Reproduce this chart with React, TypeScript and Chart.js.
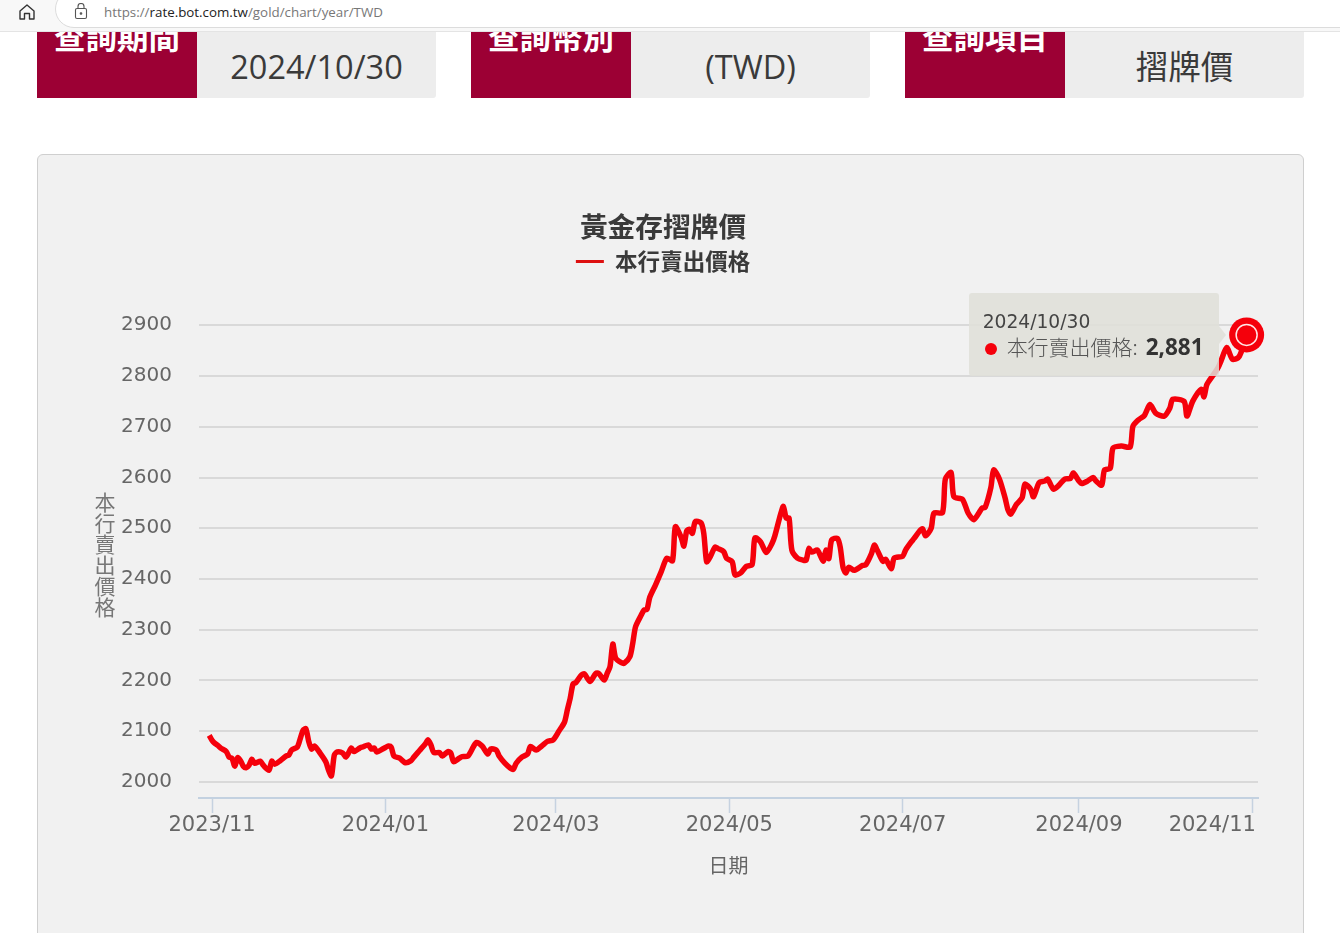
import React, { useEffect, useRef } from "react";
import { Chart, registerables } from "chart.js";

Chart.register(...registerables);

const CJK = '"Noto Sans CJK TC", "Noto Sans", sans-serif';
const NUM = '"DejaVu Sans", sans-serif';

const chartTitle = "黃金存摺牌價";
const seriesName = "本行賣出價格";
const xAxisTitle = "日期";
const selectedDate = "2024/10/30";

// days counted from 2023/11/01
const tickDays = [0, 61, 121, 182, 243, 305, 366];
const tickLabels = ["2023/11", "2024/01", "2024/03", "2024/05", "2024/07", "2024/09", "2024/11"];
const yTicks = [2000, 2100, 2200, 2300, 2400, 2500, 2600, 2700, 2800, 2900];

const dayOffsets = [
  -1, 0, 1, 2, 3, 5, 6, 7, 8, 9, 10, 11, 12, 13, 14, 15, 17, 18, 20, 21, 22, 24, 26, 27, 28, 30, 31, 32, 33, 34, 35, 36,
  38, 40, 41, 42, 43, 44, 46, 47, 48, 49, 50, 52, 53, 55, 56, 57, 58, 60, 61, 62, 63, 64, 66, 68, 70, 71, 73, 75, 76, 77,
  78, 80, 81, 83, 84, 85, 87, 88, 90, 92, 93, 95, 97, 98, 100, 101, 103, 105, 106, 107, 109, 111, 112, 114, 116, 118, 120, 122,
  124, 125, 126, 127, 128, 130, 131, 133, 135, 136, 138, 139, 140, 141, 142, 144, 145, 147, 148, 149, 151, 152, 153, 154, 156, 158, 160, 162,
  163, 165, 166, 167, 168, 169, 170, 172, 173, 174, 175, 177, 178, 180, 181, 183, 184, 186, 188, 190, 191, 193, 195, 197, 198, 200, 201, 202,
  203, 204, 206, 208, 209, 210, 211, 213, 215, 216, 217, 218, 220, 221, 222, 223, 224, 226, 229, 230, 232, 233, 234, 236, 237, 239, 240, 243,
  244, 246, 247, 249, 250, 251, 253, 254, 257, 258, 260, 261, 264, 266, 268, 271, 272, 274, 275, 277, 279, 280, 281, 283, 285, 286, 288, 289,
  291, 293, 294, 296, 298, 300, 302, 303, 305, 306, 308, 310, 311, 313, 314, 316, 317, 320, 323, 324, 326, 328, 330, 332, 335, 337, 338, 342,
  343, 345, 348, 349, 350, 352, 354, 355, 357, 359, 361, 362, 364,
];

const sellPrices = [
  2092, 2082, 2076, 2072, 2067, 2060, 2049, 2047, 2031, 2048, 2042, 2031, 2028, 2033, 2045, 2037, 2041, 2033, 2023, 2041, 2035, 2042, 2051, 2053, 2063, 2069, 2085, 2102, 2105, 2080, 2065, 2071,
  2057, 2040, 2023, 2012, 2053, 2059, 2057, 2049, 2057, 2067, 2060, 2067, 2069, 2073, 2065, 2067, 2059, 2065, 2068, 2071, 2069, 2051, 2047, 2038, 2042, 2049, 2062, 2075, 2083, 2073,
  2058, 2058, 2051, 2060, 2057, 2040, 2047, 2050, 2051, 2070, 2078, 2071, 2055, 2065, 2063, 2051, 2037, 2027, 2025, 2037, 2049, 2055, 2070, 2063, 2071, 2080, 2083, 2100,
  2118, 2142, 2165, 2193, 2196, 2211, 2213, 2198, 2214, 2214, 2201, 2214, 2227, 2272, 2244, 2235, 2234, 2247, 2273, 2306, 2329, 2339, 2340, 2364, 2388, 2414, 2441, 2436,
  2503, 2483, 2465, 2495, 2498, 2490, 2513, 2511, 2490, 2434, 2441, 2463, 2460, 2454, 2441, 2434, 2408, 2412, 2425, 2428, 2481, 2473, 2452, 2470, 2485, 2527, 2543, 2520,
  2520, 2457, 2441, 2437, 2437, 2460, 2453, 2457, 2435, 2457, 2440, 2477, 2480, 2463, 2423, 2412, 2423, 2417, 2427, 2428, 2450, 2467, 2457, 2435, 2439, 2420, 2441, 2445,
  2457, 2473, 2480, 2495, 2499, 2485, 2500, 2530, 2531, 2597, 2610, 2562, 2557, 2530, 2517, 2540, 2541, 2580, 2615, 2597, 2560, 2537, 2528, 2547, 2560, 2587, 2577, 2562,
  2590, 2593, 2597, 2577, 2585, 2597, 2598, 2609, 2593, 2588, 2593, 2600, 2593, 2585, 2615, 2618, 2658, 2662, 2660, 2701, 2714, 2722, 2744, 2727, 2721, 2737, 2754, 2750,
  2721, 2750, 2774, 2759, 2783, 2800, 2817, 2830, 2856, 2833, 2836, 2846, 2881,
];

const lastIndex = sellPrices.length - 1;
const RED = "#f5000b";

const card = (left: number, label: string, value: string) => (
  <React.Fragment key={label}>
    <div style={{ position: "absolute", left, top: 10, width: 160, height: 88, background: "#9c0034", color: "#fff", fontFamily: CJK, fontWeight: 700, fontSize: 31.5, lineHeight: "51px", textAlign: "center" }}>{label}</div>
    <div style={{ position: "absolute", left: left + 160, top: 10, width: 239, height: 88, background: "#ededed", borderRadius: "0 0 3px 0", color: "#3a3a3a", fontFamily: '"Open Sans", ' + CJK, fontSize: 32.5, lineHeight: "114px", textAlign: "center", fontWeight: 400 }}>{value}</div>
  </React.Fragment>
);

export default function App() {
  const canvasRef = useRef<HTMLCanvasElement>(null);
  const tipRef = useRef<HTMLDivElement>(null);

  useEffect(() => {
    const points = dayOffsets.map((d, i) => ({ x: d, y: sellPrices[i] }));
    const lastPoint = [points[lastIndex]];
    const chart = new Chart(canvasRef.current as HTMLCanvasElement, {
      type: "line",
      data: {
        datasets: [
          { label: seriesName, data: points, borderColor: RED, backgroundColor: RED, borderWidth: 5.5, pointRadius: 0, tension: 0.25, borderJoinStyle: "round", clip: false, order: 3 },
          { label: "halo", data: lastPoint, pointRadius: 17.5, pointBackgroundColor: RED, pointBorderWidth: 0, showLine: false, clip: false, order: 2 },
          { label: "marker", data: lastPoint, pointRadius: 10.5, pointBackgroundColor: RED, pointBorderColor: "#ffe6e6", pointBorderWidth: 1.5, showLine: false, clip: false, order: 1 },
        ],
      } as any,
      options: {
        animation: false,
        responsive: false,
        events: [],
        layout: { padding: { top: 205, right: 68, bottom: 53, left: 68 } },
        plugins: {
          title: { display: true, text: chartTitle, color: "#3a3a3a", font: { family: CJK, size: 27.7, weight: "bold" }, padding: { top: 5, bottom: 3 } },
          legend: {
            display: true,
            labels: {
              color: "#3a3a3a",
              font: { family: CJK, size: 22.5, weight: "bold" },
              usePointStyle: true,
              pointStyleWidth: 28,
              padding: 4,
              generateLabels: () => [{ text: seriesName, fillStyle: "#dd1010", strokeStyle: "#dd1010", lineWidth: 3, pointStyle: "line", datasetIndex: 0, hidden: false, fontColor: "#3a3a3a" }],
            },
          },
          tooltip: {
            enabled: false,
            external: ({ chart: c, tooltip }: any) => {
              const tip = tipRef.current;
              if (!tip || !tooltip.dataPoints?.length) return;
              const el = tooltip.dataPoints[0].element;
              tip.style.left = c.canvas.offsetLeft + el.x - 278 + "px";
              tip.style.top = c.canvas.offsetTop + el.y - 42 + "px";
              tip.style.display = "block";
              (tip.querySelector("[data-t]") as HTMLElement).textContent = selectedDate;
              (tip.querySelector("[data-n]") as HTMLElement).textContent = seriesName + ":";
              (tip.querySelector("[data-v]") as HTMLElement).textContent = tooltip.dataPoints[0].parsed.y.toLocaleString("en-US");
            },
          },
        },
        scales: {
          x: {
            type: "linear",
            min: -4.6,
            max: 368,
            afterBuildTicks: (s: any) => { s.ticks = tickDays.map((value) => ({ value })); },
            afterFit: (s: any) => { s.height = 82; s.paddingLeft = 0; s.paddingRight = 0; },
            border: { color: "#c3d1e0", width: 2 },
            grid: { drawOnChartArea: false, drawTicks: true, tickLength: 15, tickWidth: 1.5, tickColor: "#c6d2e0" },
            ticks: {
              autoSkip: false,
              maxRotation: 0,
              padding: 0,
              color: "#666",
              font: { family: NUM, size: 21 },
              callback: (_v: any, i: number) => tickLabels[i] + (i === tickLabels.length - 1 ? "\u00A0".repeat(12) : ""),
            },
            title: { display: true, text: xAxisTitle, color: "#666", font: { family: CJK, size: 20 }, padding: { top: 0, bottom: 3 } },
          },
          y: {
            type: "linear",
            min: 1968.45,
            max: 2983.8,
            afterBuildTicks: (s: any) => { s.ticks = yTicks.map((value) => ({ value })); },
            afterFit: (s: any) => { s.width = 131; s.paddingTop = 0; s.paddingBottom = 0; },
            border: { display: false },
            grid: { color: "#d9d9d9", lineWidth: 2, drawTicks: false },
            ticks: { padding: 27, color: "#666", font: { family: NUM, size: 20 }, callback: (v: any) => String(v) },
          },
        },
      } as any,
    });
    chart.tooltip?.setActiveElements([{ datasetIndex: 0, index: lastIndex }], { x: 0, y: 0 });
    chart.render();
    return () => chart.destroy();
  }, []);

  return (
    <div style={{ position: "fixed", left: 0, top: 0, width: 1340, height: 933, overflow: "hidden", background: "#fff" }}>
      {card(37, "查詢期間", "2024/10/30")}
      {card(471, "查詢幣別", "(TWD)")}
      {card(905, "查詢項目", "摺牌價")}

      {/* browser bar */}
      <div style={{ position: "absolute", left: 0, top: 0, width: 1340, height: 31, background: "#f8f8f8", borderBottom: "1px solid #e4e4e4" }} />
      <div style={{ position: "absolute", left: 55, top: -10, width: 1320, height: 38, background: "#fff", border: "1px solid #dcdcdc", borderRadius: 19, boxSizing: "border-box" }} />
      <svg style={{ position: "absolute", left: 18, top: 3 }} width="18" height="18" viewBox="0 0 18 18" fill="none" stroke="#333" strokeWidth="1.4">
        <path d="M2 8 L9 2 L16 8 V16 H11.5 V10.5 H6.5 V16 H2 Z" strokeLinejoin="round" />
      </svg>
      <svg style={{ position: "absolute", left: 74, top: 3 }} width="14" height="17" viewBox="0 0 14 17" fill="none" stroke="#555" strokeWidth="1.1">
        <rect x="1.5" y="5.5" width="11" height="10" rx="1.5" />
        <path d="M4 5.5 V3.5 A3 3 0 0 1 10 3.5 V5.5" />
        <circle cx="7" cy="10.5" r="0.8" fill="#555" />
      </svg>
      <div style={{ position: "absolute", left: 104, top: 3, fontFamily: '"Open Sans", sans-serif', fontSize: 13.35, lineHeight: "18px", color: "#777", whiteSpace: "nowrap" }}>
        https://<span style={{ color: "#222" }}>rate.bot.com.tw</span>/gold/chart/year/TWD
      </div>

      {/* panel */}
      <div style={{ position: "absolute", left: 37, top: 154, width: 1267, height: 820, background: "#f1f1f1", border: "1px solid #cfcfcf", borderRadius: 6, boxSizing: "border-box" }} />

      <canvas ref={canvasRef} width={1326} height={933} style={{ position: "absolute", left: 0, top: 0, width: 1326, height: 933 }} />

      <div style={{ position: "absolute", left: 93, top: 492, width: 22, fontFamily: CJK, fontSize: 21, lineHeight: "21px", color: "#777", writingMode: "vertical-rl", textOrientation: "upright", fontWeight: 400, whiteSpace: "nowrap" }}>{seriesName}</div>

      {/* tooltip, filled in by the Chart.js external tooltip handler */}
      <div ref={tipRef} style={{ display: "none", position: "absolute", width: 250, height: 83, background: "rgba(223,223,217,0.86)", borderRadius: 3 }}>
        <div style={{ position: "absolute", left: 250, top: 33, width: 0, height: 0, borderTop: "9px solid transparent", borderBottom: "9px solid transparent", borderLeft: "7px solid rgba(223,223,217,0.86)" }} />
        <div data-t="" style={{ position: "absolute", left: 14, top: 17, fontFamily: NUM, fontSize: 18.7, lineHeight: "24px", color: "#444", whiteSpace: "nowrap" }} />
        <div style={{ position: "absolute", left: 16, top: 50, width: 12, height: 12, borderRadius: 6, background: RED }} />
        <div data-n="" style={{ position: "absolute", left: 38, top: 39, fontFamily: CJK, fontSize: 21, lineHeight: "28px", color: "#555", fontWeight: 300, whiteSpace: "nowrap" }} />
        <div data-v="" style={{ position: "absolute", left: 177, top: 39, fontFamily: '"Open Sans", sans-serif', fontSize: 22.5, lineHeight: "30px", fontWeight: 700, color: "#333", whiteSpace: "nowrap" }} />
      </div>
    </div>
  );
}
